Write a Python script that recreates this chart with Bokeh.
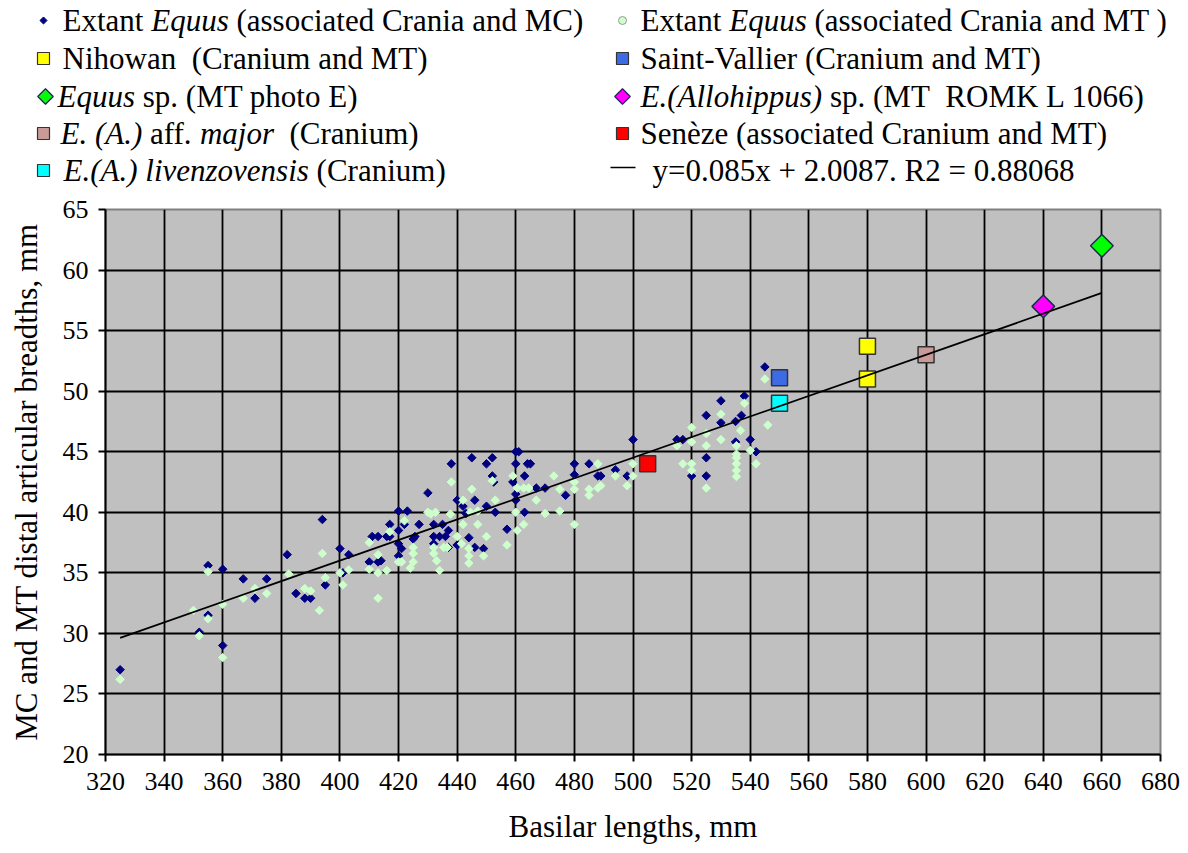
import re
from bokeh.plotting import figure
from bokeh.layouts import column
from bokeh.models import Range1d, FixedTicker
from bokeh.embed import file_html
from bokeh.resources import INLINE
from bokeh.core.properties import value
import numpy as np

FONT = "Liberation Serif"

# ---------------- data ----------------
# Extant Equus, associated crania and MC (dark blue)
mc_x = [325, 355, 360, 355, 352, 360, 367, 371, 375, 382, 385, 388, 390, 394, 395, 400, 403,
        410, 413, 411, 413, 416, 417, 417, 420, 401,
        423, 422, 427, 432, 435, 420, 425.6, 420, 420, 432, 434, 436, 437, 430, 438, 445, 450,
        452, 460, 461, 460, 464, 465, 480, 485, 500, 515, 440, 446, 442, 443, 450, 453, 452.5,
        452, 459, 460, 460, 463, 463, 467, 470, 480, 477, 488, 494, 498, 457, 449, 444, 446,
        440, 437, 432, 421, 425, 414,
        545, 538, 530, 525, 530, 537, 535, 517, 540, 535, 525, 542, 520, 525, 489]
mc_y = [27.0, 35.6, 35.3, 31.5, 30.1, 29.0, 34.5, 32.9, 34.5, 36.5, 33.3, 32.9, 32.9, 39.4, 34.0, 37.0, 36.5,
        35.9, 35.9, 38.0, 38.0, 38.0, 38.0, 39.0, 40.1, 35.0,
        40.1, 39.0, 39.0, 39.0, 39.0, 38.5, 38.0, 37.4, 36.4, 38.0, 38.0, 38.0, 38.5, 41.6, 44.0, 44.5, 44.0,
        44.5, 45.0, 45.0, 44.0, 44.0, 44.0, 44.0, 44.0, 46.0, 46.0, 41.0, 41.0, 40.5, 39.9, 40.5, 40.0, 42.5,
        43.0, 42.5, 41.5, 41.0, 43.0, 40.0, 42.0, 42.0, 43.1, 41.4, 43.0, 43.5, 43.0, 38.6, 37.0, 37.9, 37.1,
        37.3, 37.1, 37.4, 37.0, 37.8, 36.0,
        52.0, 49.6, 49.2, 48.0, 47.4, 48.0, 47.5, 46.0, 46.0, 45.8, 44.5, 45.0, 43.0, 43.0, 43.0]

# Extant Equus, associated crania and MT (light green)
mt_x = [325, 355, 355, 352, 350, 360, 360, 367, 371, 375, 382.5, 388, 390, 393, 394, 395, 400,
        401, 403, 410, 410, 413, 413, 413, 416, 417, 420,
        430, 438, 445, 442, 453, 452, 459, 460.5, 462.7, 464.4, 467, 473, 475, 480, 480, 485, 485,
        488, 488, 498, 500, 500, 480, 475, 470, 462.7, 460.5, 460, 450, 457, 449, 447, 444, 444,
        444, 440, 441.5, 436.6, 435.4, 432, 432, 433, 434, 437.7, 444.5, 447, 425, 425, 425, 421,
        424, 431, 432.6, 422, 442,
        545, 538, 530, 546, 536.7, 530, 525, 520, 520, 525, 515, 535.3, 535.3, 535.3, 535.3,
        535.3, 535.3, 540, 542, 517, 520, 525, 520, 494, 489]
mt_y = [26.2, 35.1, 31.2, 29.8, 31.9, 32.4, 28.0, 32.9, 33.7, 33.3, 34.9, 33.7, 33.5, 31.9, 36.6, 34.6, 35.0,
        34.0, 35.25, 37.5, 35.3, 35.0, 36.5, 32.9, 35.2, 38.4, 35.9,
        40.0, 42.5, 41.9, 41.0, 41.0, 42.6, 43.0, 42.0, 42.0, 42.0, 41.0, 43.0, 41.9, 42.5, 41.9, 41.9, 41.4,
        44.0, 42.0, 42.2, 44.0, 43.0, 39.0, 40.1, 39.9, 39.0, 38.5, 40.0, 38.0, 37.3, 36.4, 39.0, 37.0, 36.4,
        35.8, 38.0, 37.4, 37.1, 37.1, 37.1, 36.6, 36.0, 35.2, 39.85, 40.0, 40.1, 37.1, 36.6, 35.9, 35.9,
        35.4, 39.85, 40.0, 39.3, 39.0,
        51.0, 49.0, 48.1, 47.2, 46.75, 46.0, 46.5, 47.0, 45.8, 45.5, 45.5, 45.5, 44.8, 44.5, 44.0,
        43.45, 42.95, 45.1, 44.0, 44.0, 43.45, 42.0, 44.0, 43.0, 42.2]

# Fossil specimens
fossil_names = ["Nihowan", "Nihowan", "Saint-Vallier", "Equus sp. photo E", "E.(Allohippus) sp.",
                "E. (A.) aff. major", "Seneze", "E.(A.) livenzovensis"]
fossil_x = [580, 580, 550, 660, 640, 600, 505, 550]
fossil_y = [53.7, 51.0, 51.1, 62.0, 57.0, 53.0, 44.0, 49.0]
fossil_color = ["#FFFF00", "#FFFF00", "#3D6BE6", "#00FF00", "#FF00FF", "#C89A98", "#FF0000", "#00FFFF"]
fossil_marker = ["sq", "sq", "sq", "di", "di", "sq", "sq", "sq"]

# Trend line
slope, intercept = 0.085, 2.0087
trend_x = [325, 660]

x_ticks = list(range(320, 681, 20))
y_ticks = list(range(20, 66, 5))

# ---------------- text widths (Times metrics) ----------------
ROMAN = {' ': 250, '(': 333, ')': 333, '.': 250, ',': 250, '-': 333, '=': 564, '+': 564,
         'A': 722, 'C': 667, 'E': 611, 'K': 722, 'L': 611, 'M': 889, 'N': 722, 'O': 722,
         'R': 667, 'S': 556, 'T': 611, 'V': 722,
         'a': 444, 'b': 500, 'c': 444, 'd': 500, 'e': 444, 'f': 333, 'g': 500, 'h': 500,
         'i': 278, 'j': 278, 'k': 500, 'l': 278, 'm': 778, 'n': 500, 'o': 500, 'p': 500,
         'q': 500, 'r': 333, 's': 389, 't': 278, 'u': 500, 'v': 500, 'w': 722, 'x': 500,
         'y': 500, 'z': 444, 'è': 444}
ITALIC = {' ': 250, '(': 333, ')': 333, '.': 250, 'A': 611, 'E': 611,
          'a': 500, 'b': 500, 'c': 444, 'd': 500, 'e': 444, 'f': 278, 'g': 500, 'h': 500,
          'i': 278, 'j': 278, 'k': 444, 'l': 278, 'm': 722, 'n': 500, 'o': 500, 'p': 500,
          'q': 500, 'r': 389, 's': 389, 't': 278, 'u': 500, 'v': 444, 'w': 667, 'x': 444,
          'y': 444, 'z': 389}


def tw(s, italic, size):
    tab = ITALIC if italic else ROMAN
    return sum(tab.get(c, 500) for c in s) * size / 1000.0


def layout_row(pieces, x0, y, fs):
    """Place text pieces one after another; spaces at the ends or doubled are turned into gaps."""
    out = []
    x = x0
    for s, ital in pieces:
        for tok in re.split(r'(^ +| {2,}| +$)', s):
            if not tok:
                continue
            if tok.strip() == "":
                x += tw(tok, ital, fs)
                continue
            out.append((x, y, tok, ital))
            x += tw(tok, ital, fs)
    return out


W = 1188
LH = 190
LEG_FS = 31

leg = figure(width=W, height=LH, x_range=Range1d(0, W), y_range=Range1d(LH, 0),
             output_backend="svg", toolbar_location=None, min_border=0,
             x_axis_location=None, y_axis_location=None, outline_line_color=None)
leg.frame_align = False
leg.grid.visible = False

row_y = [20, 58, 96, 133, 170]

left_rows = [
    [("Extant ", False), ("Equus", True), (" (associated Crania and MC)", False)],
    [("Nihowan  (Cranium and MT)", False)],
    [("Equus", True), (" sp. (MT photo E)", False)],
    [("E. (A.)", True), (" aff. ", False), ("major", True), ("  (Cranium)", False)],
    [("E.(A.) livenzovensis", True), (" (Cranium)", False)],
]
right_rows = [
    [("Extant ", False), ("Equus", True), (" (associated Crania and MT )", False)],
    [("Saint-Vallier (Cranium and MT)", False)],
    [("E.(Allohippus)", True), (" sp. (MT  ROMK L 1066)", False)],
    [("Senèze (associated Cranium and MT)", False)],
    [("y=0.085x + 2.0087. R2 = 0.88068", False)],
]
left_start = [62, 62, 57, 60, 63]
right_start = [640, 640, 640, 640, 652]

items = []
for rows, starts in ((left_rows, left_start), (right_rows, right_start)):
    for r, (pieces, x0) in enumerate(zip(rows, starts)):
        items += layout_row(pieces, x0, row_y[r], LEG_FS)

rom = [t for t in items if not t[3]]
ita = [t for t in items if t[3]]
leg.text(x=[t[0] for t in rom], y=[t[1] for t in rom], text=[t[2] for t in rom],
         text_font=value(FONT), text_font_size=f"{LEG_FS}px",
         text_baseline="middle", text_align="left", text_color="black")
leg.text(x=[t[0] for t in ita], y=[t[1] for t in ita], text=[t[2] for t in ita],
         text_font=value(FONT), text_font_size=f"{LEG_FS}px", text_font_style="italic",
         text_baseline="middle", text_align="left", text_color="black")

# legend markers
leg.scatter([43], [row_y[0]], marker="square", angle=np.pi / 4, size=5,
            fill_color="#000080", line_color="#000080")
leg.scatter([622], [row_y[0]], marker="circle", size=8,
            fill_color="#CCFFCC", line_color="#999999", line_width=1)
leg.scatter([43, 622, 43, 622], [row_y[1], row_y[1], row_y[3], row_y[3]], marker="square", size=12,
            fill_color=["#FFFF00", "#3D6BE6", "#C89A98", "#FF0000"], line_color="#333333", line_width=1.2)
leg.scatter([43], [row_y[4]], marker="square", size=12,
            fill_color="#00FFFF", line_color="#333333", line_width=1.2)
leg.scatter([45, 622], [row_y[2], row_y[2]], marker="square", angle=np.pi / 4, size=11,
            fill_color=["#00FF00", "#FF00FF"], line_color="#1a2a50", line_width=1.2)
leg.line([610, 635], [row_y[4] - 3, row_y[4] - 3], line_color="black", line_width=1.5)

# ---------------- main chart ----------------
MH = 853 - LH
p = figure(width=W, height=MH, x_range=Range1d(320, 680), y_range=Range1d(20, 65),
           output_backend="svg", toolbar_location=None,
           min_border_left=105, min_border_right=W - 1160, min_border_top=209 - LH,
           min_border_bottom=853 - 754,
           background_fill_color="#C0C0C0", border_fill_color="white",
           outline_line_color="#808080", outline_line_width=2)
p.frame_align = False

for ax, ticks in ((p.xaxis, x_ticks), (p.yaxis, y_ticks)):
    ax.ticker = FixedTicker(ticks=ticks)
    ax.minor_tick_line_color = None
    ax.major_tick_in = 0
    ax.major_tick_out = 7
    ax.major_tick_line_color = "black"
    ax.major_tick_line_width = 2
    ax.axis_line_color = "black"
    ax.axis_line_width = 2
    ax.major_label_text_font = FONT
    ax.major_label_text_font_size = "26px"
    ax.major_label_text_color = "black"
    ax.axis_label_text_font = FONT
    ax.axis_label_text_font_size = "31px"
    ax.axis_label_text_font_style = "normal"
    ax.axis_label_text_color = "black"

p.xaxis.axis_label = "Basilar lengths, mm"
p.yaxis.axis_label = "MC and MT distal articular breadths, mm"
p.xaxis.major_label_standoff = 11
p.yaxis.major_label_standoff = 10
p.xaxis.axis_label_standoff = 16
p.yaxis.axis_label_standoff = 16

p.xgrid.ticker = FixedTicker(ticks=x_ticks)
p.ygrid.ticker = FixedTicker(ticks=y_ticks)
p.grid.grid_line_color = "black"
p.grid.grid_line_width = 1.8

p.scatter(mc_x, mc_y, marker="square", angle=np.pi / 4, size=6,
          fill_color="#000080", line_color="#000080", line_width=1)
p.scatter(mt_x, mt_y, marker="square", angle=np.pi / 4, size=6,
          fill_color="#CCFFCC", line_color="#CCFFCC", line_width=1)

sq = [i for i, m in enumerate(fossil_marker) if m == "sq"]
di = [i for i, m in enumerate(fossil_marker) if m == "di"]
p.scatter([fossil_x[i] for i in sq], [fossil_y[i] for i in sq], marker="square", size=16,
          fill_color=[fossil_color[i] for i in sq], line_color="#333333", line_width=1.5)
p.scatter([fossil_x[i] for i in di], [fossil_y[i] for i in di], marker="square", angle=np.pi / 4,
          size=16, fill_color=[fossil_color[i] for i in di], line_color="#1a2a50", line_width=1.5)

trend_y = [slope * x + intercept for x in trend_x]
p.line(trend_x, trend_y, line_color="black", line_width=1.8)

layout = column(leg, p, spacing=0)
open("out.html", "w").write(file_html(layout, INLINE))
